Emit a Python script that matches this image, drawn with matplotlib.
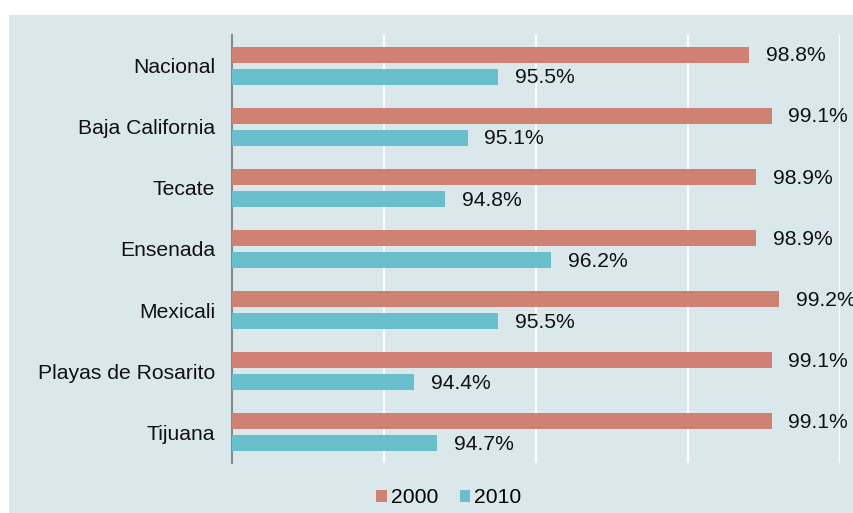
import matplotlib
matplotlib.use("Agg")
import matplotlib.pyplot as plt
from matplotlib.patches import Rectangle
import numpy as np

categories = ["Nacional", "Baja California", "Tecate", "Ensenada", "Mexicali",
              "Playas de Rosarito", "Tijuana"]
v2000 = [98.8, 99.1, 98.9, 98.9, 99.2, 99.1, 99.1]
v2010 = [95.5, 95.1, 94.8, 96.2, 95.5, 94.4, 94.7]
series_names = ["2000", "2010"]

plt.rcParams['font.family'] = ['Liberation Sans', 'DejaVu Sans']
bg = "#dae8eb"
c2000 = "#cf8274"
c2010 = "#6abfcc"
fs = 15.2

fig = plt.figure(figsize=(8.54, 5.13), dpi=100, facecolor="white")
fig.patches.append(Rectangle((9/854, 0), 1 - 9/854, (513 - 15)/513,
                             transform=fig.transFigure, facecolor=bg,
                             edgecolor="none", zorder=-10))
ax = fig.add_axes([232/854, (513 - 463)/513, (840 - 232)/854, (463 - 35)/513])
ax.set_facecolor(bg)

n = len(categories)
y = np.arange(n)[::-1].astype(float)
h = 0.26
off = 0.18
xmin = 92
ax.barh(y + off, np.array(v2000) - xmin, left=xmin, height=h, color=c2000, label=series_names[0], zorder=3)
ax.barh(y - off, np.array(v2010) - xmin, left=xmin, height=h, color=c2010, label=series_names[1], zorder=3)
for yi, a, b in zip(y, v2000, v2010):
    ax.text(a + 0.22, yi + off - 0.02, f"{a:.1f}%", va="center", ha="left", fontsize=fs, color="#111111", zorder=4)
    ax.text(b + 0.22, yi - off - 0.02, f"{b:.1f}%", va="center", ha="left", fontsize=fs, color="#111111", zorder=4)

ax.set_xlim(92, 100)
ax.set_ylim(-0.5, n - 0.5)
ax.set_xticks([94, 96, 98, 100])
ax.xaxis.grid(True, color="white", linewidth=1.5, zorder=1)
ax.set_axisbelow(True)
ax.tick_params(axis="x", length=0, labelbottom=False)
ax.tick_params(axis="y", length=0, pad=12)
ax.set_yticks(y)
ax.set_yticklabels(categories, fontsize=fs, color="#111111")
for s in ["top", "right", "bottom"]:
    ax.spines[s].set_visible(False)
ax.spines["left"].set_color("#8a8a8a")
ax.spines["left"].set_linewidth(1.5)

leg = fig.legend(handles=ax.get_legend_handles_labels()[0], labels=series_names,
                 loc="center", bbox_to_anchor=(449/854, 1 - 498/513), ncol=2,
                 frameon=False, fontsize=fs, handlelength=0.5, handleheight=0.5,
                 handletextpad=0.2, columnspacing=1.0)

fig.savefig("out.png", dpi=100, facecolor="white")
